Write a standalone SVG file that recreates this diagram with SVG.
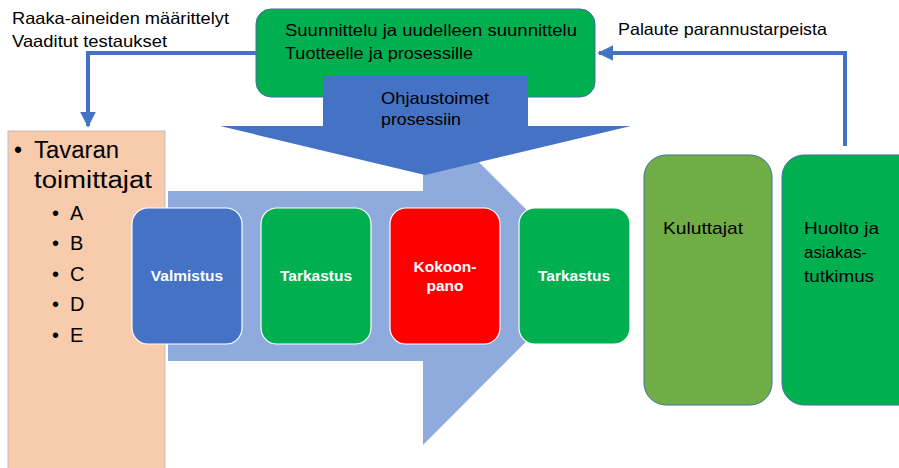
<svg xmlns="http://www.w3.org/2000/svg" width="899" height="468" viewBox="0 0 899 468">
<defs>
<style>
text{font-family:"Liberation Sans",Arial,sans-serif;fill:#000}
.t16{font-size:16.5px}
.big{font-size:23px}
.sub{font-size:20px}
.lab{font-size:17px}
.wl{font-size:15.5px;font-weight:bold;fill:#fff;text-anchor:middle}
.proc{stroke:#fff;stroke-width:1.2}
.conn{fill:none;stroke:#4472C4;stroke-width:4}
</style>
<marker id="ah" viewBox="0 0 10 10" refX="9" refY="5" markerWidth="4" markerHeight="4" orient="auto" markerUnits="strokeWidth">
<path d="M0,0 L10,5 L0,10 z" fill="#4472C4"/>
</marker>
</defs>
<rect width="899" height="468" fill="#fff"/>

<g id="suppliers">
<rect x="8" y="131" width="157" height="340" fill="#F8CBAD" stroke="#BFBFBF" stroke-width="1"/>
<text class="big" x="14" y="158">•</text>
<text class="big" x="34" y="158" textLength="85" lengthAdjust="spacingAndGlyphs">Tavaran</text>
<text class="big" x="34" y="188" textLength="118" lengthAdjust="spacingAndGlyphs">toimittajat</text>
<text class="sub" x="52" y="220">•</text><text class="sub" x="70" y="220">A</text>
<text class="sub" x="52" y="250">•</text><text class="sub" x="70" y="250">B</text>
<text class="sub" x="52" y="281">•</text><text class="sub" x="70" y="281">C</text>
<text class="sub" x="52" y="311">•</text><text class="sub" x="70" y="311">D</text>
<text class="sub" x="52" y="342">•</text><text class="sub" x="70" y="342">E</text>
</g>

<g id="process-arrow">
<polygon points="168,191 423,191 423,106 592,275.5 423,445 423,361 168,361" fill="#8FAADC"/>
</g>

<g id="design">
<rect x="256" y="9" width="339" height="88" rx="15" fill="#00B050" stroke="#41719C" stroke-width="1"/>
<text class="t16" x="285" y="36" textLength="292" lengthAdjust="spacingAndGlyphs">Suunnittelu ja uudelleen suunnittelu</text>
<text class="t16" x="285" y="59" textLength="188" lengthAdjust="spacingAndGlyphs">Tuotteelle ja prosessille</text>
</g>

<g id="control">
<polygon points="323,76 528,76 528,126 631,126 425,175 220,126 323,126" fill="#4472C4"/>
<text class="t16" x="381" y="104" textLength="108" lengthAdjust="spacingAndGlyphs">Ohjaustoimet</text>
<text class="t16" x="381" y="125" textLength="80" lengthAdjust="spacingAndGlyphs">prosessiin</text>
</g>

<g id="valmistus">
<rect class="proc" x="132" y="208" width="110" height="136" rx="16" fill="#4472C4"/>
<text class="wl" x="187" y="281">Valmistus</text>
</g>
<g id="tarkastus1">
<rect class="proc" x="261" y="208" width="110" height="136" rx="16" fill="#00B050"/>
<text class="wl" x="316" y="281">Tarkastus</text>
</g>
<g id="kokoonpano">
<rect class="proc" x="390" y="208" width="110" height="136" rx="16" fill="#FF0000"/>
<text class="wl" x="445" y="272">Kokoon-</text>
<text class="wl" x="445" y="291">pano</text>
</g>
<g id="tarkastus2">
<rect class="proc" x="519" y="208" width="111" height="136" rx="16" fill="#00B050"/>
<text class="wl" x="574" y="281">Tarkastus</text>
</g>

<g id="kuluttajat">
<rect x="644" y="155" width="128" height="250" rx="22" fill="#70AD47" stroke="#41719C" stroke-width="1"/>
<text class="lab" x="663" y="234" textLength="80" lengthAdjust="spacingAndGlyphs">Kuluttajat</text>
</g>
<g id="huolto">
<rect x="782" y="155" width="140" height="250" rx="22" fill="#00B050" stroke="#41719C" stroke-width="1"/>
<text class="lab" x="804" y="234" textLength="75" lengthAdjust="spacingAndGlyphs">Huolto ja</text>
<text class="lab" x="804" y="258" textLength="63" lengthAdjust="spacingAndGlyphs">asiakas-</text>
<text class="lab" x="804" y="282" textLength="70" lengthAdjust="spacingAndGlyphs">tutkimus</text>
</g>

<g id="connectors">
<polyline class="conn" points="256,53 88,53 88,126" marker-end="url(#ah)"/>
<polyline class="conn" points="845,146 845,53 599,53" marker-end="url(#ah)"/>
</g>

<g id="labels">
<text class="t16" x="12" y="24" textLength="217" lengthAdjust="spacingAndGlyphs">Raaka-aineiden määrittelyt</text>
<text class="t16" x="12" y="47" textLength="155" lengthAdjust="spacingAndGlyphs">Vaaditut testaukset</text>
<text class="t16" x="618" y="35" textLength="209" lengthAdjust="spacingAndGlyphs">Palaute parannustarpeista</text>
</g>
</svg>
